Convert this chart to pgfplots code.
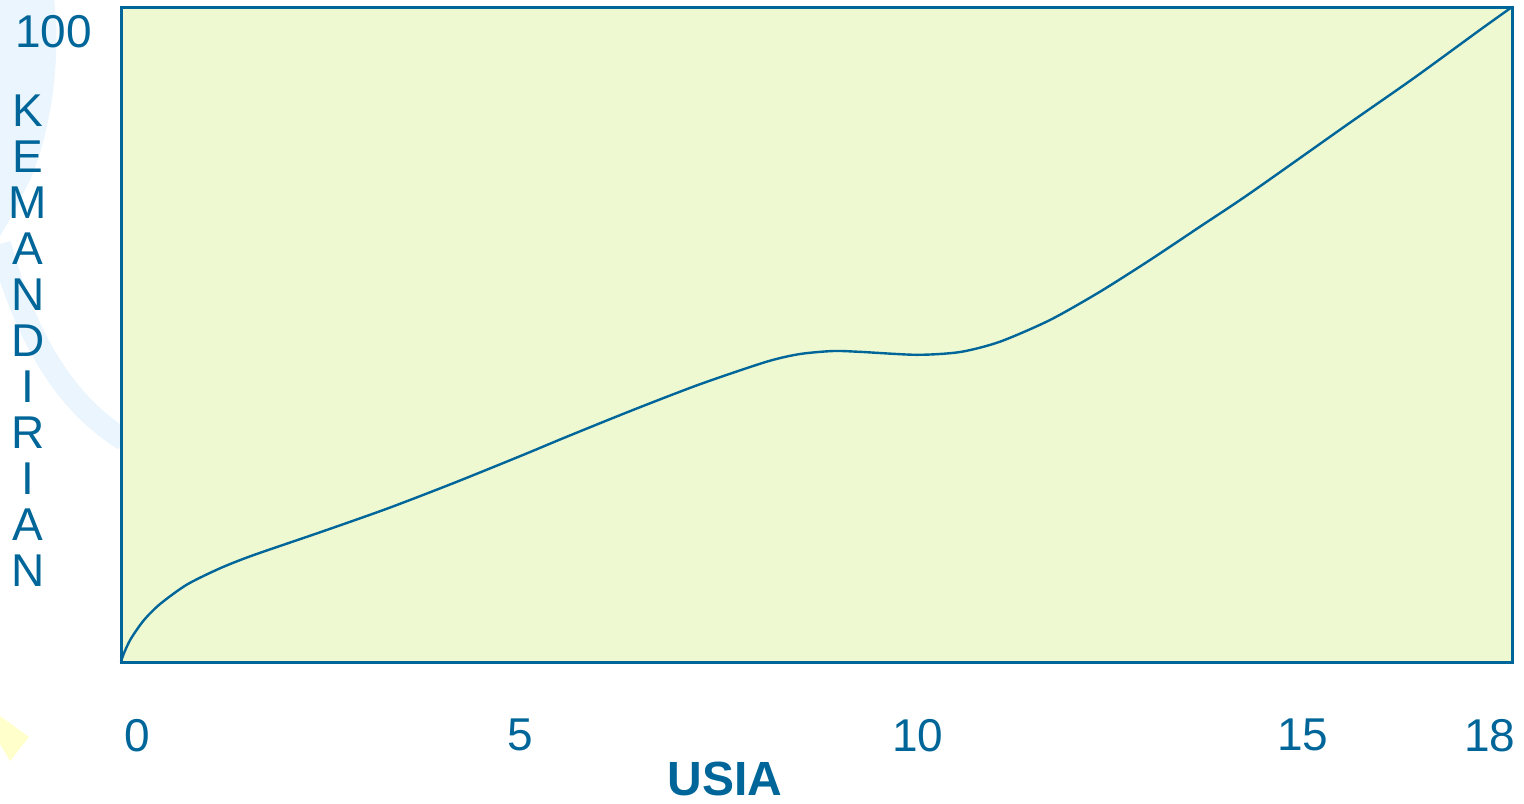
\documentclass[border=0pt]{standalone}
\usepackage{pgfplots}
\pgfplotsset{compat=1.18}
\usepackage{fontspec}
\setmainfont{Liberation Sans}
\definecolor{cblue}{RGB}{0,102,153}
\definecolor{cfill}{RGB}{238,249,210}
\definecolor{swirl}{RGB}{234,245,253}
\definecolor{tri}{RGB}{255,255,204}
\begin{document}
\begin{tikzpicture}
\useasboundingbox (0,0) rectangle (762pt,-401.5pt);
% faint background decorations
\fill[swirl] (0,0) -- (27pt,0) .. controls (30pt,-20pt) and (28pt,-60pt) .. (15pt,-90pt) .. controls (10pt,-100pt) and (5pt,-110pt) .. (0,-118pt) -- cycle;
\draw[swirl, line width=11pt] (0,-122pt) .. controls (12pt,-165pt) and (30pt,-200pt) .. (62pt,-220pt);
\fill[tri] (0,-358pt) -- (14.5pt,-368.5pt) -- (5pt,-380.5pt) -- (0,-372pt) -- cycle;
\begin{axis}[
  at={(60.5pt,-331pt)}, anchor=south west,
  width=695.5pt, height=327.5pt, scale only axis,
  xmin=0, xmax=18, ymin=0, ymax=100,
  axis background/.style={fill=cfill},
  axis line style={cblue, line width=1.5pt},
  xtick={0.21,5.17,10.31,15.29,17.71}, xticklabels={0,5,10,15,18},
  ytick={96.2}, yticklabels={100},
  major tick length=0pt,
  tick label style={font=\fontsize{23}{27}\selectfont, text=cblue},
  xticklabel style={yshift=-25pt},
  yticklabel style={xshift=-11pt},
  xlabel={USIA},
  xlabel style={at={(rel axis cs:0.434,-0.178)}, anchor=center, font=\bfseries\fontsize{24}{28}\selectfont, text=cblue},
  ylabel={K\\E\\M\\A\\N\\D\\I\\R\\I\\A\\N},
  ylabel style={at={(rel axis cs:-0.067,0.49)}, anchor=center, rotate=-90, align=center, font=\fontsize{23}{23}\selectfont, text=cblue},
  clip=false,
]
\addplot[cblue, line width=1.2pt, smooth, tension=0.45] coordinates {
(0,0) (0.03,1.1) (0.12,3.4) (0.29,6.3) (0.5,8.8) (0.85,11.8)
(1.28,14.3) (1.71,16.3) (2.575,19.8) (3.44,23.4) (4.30,27.3)
(5.2,31.6) (5.77,34.4) (6.63,38.5) (7.49,42.4) (8.355,45.85)
(8.786,47.02) (9.217,47.48) (9.567,47.35) (10.30,46.9) (10.86,47.33)
(11.374,48.90) (12.021,52.21) (12.668,56.53) (13.315,61.37) (13.962,66.46)
(14.609,71.56) (15.860,81.98) (16.722,89.08) (17.585,96.5) (18,100)
};
\end{axis}
\end{tikzpicture}
\end{document}
